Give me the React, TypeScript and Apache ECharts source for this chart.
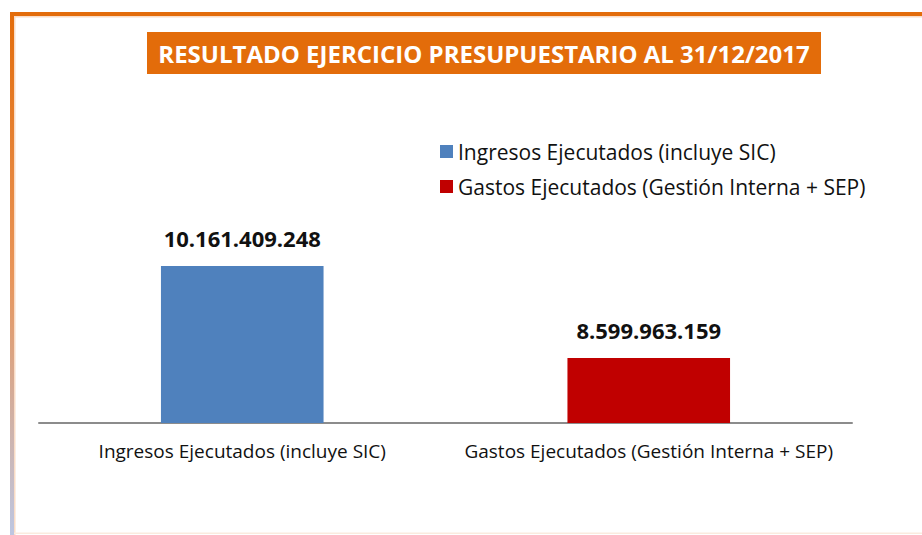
import React, { useEffect, useRef } from "react";
import * as echarts from "echarts";

const categories = ["Ingresos Ejecutados (incluye SIC)", "Gastos Ejecutados (Gestión Interna + SEP)"];
const ingresos = [10161409248, null];
const gastos = [null, 8599963159];
const titleText = "RESULTADO EJERCICIO PRESUPUESTARIO AL 31/12/2017";

const fmt = (v: number) => Math.round(v).toString().replace(/\B(?=(\d{3})+(?!\d))/g, ".");

export default function App() {
  const ref = useRef<HTMLDivElement>(null);
  useEffect(() => {
    const chart = echarts.init(ref.current!, null, { renderer: "svg" });
    const FONT = "Open Sans";
    const label = {
      show: true,
      position: "top",
      distance: 17,
      fontFamily: FONT,
      fontWeight: "bold",
      fontSize: 22,
      color: "#111",
      formatter: (p: any) => fmt(p.value),
    };
    chart.setOption({
      animation: false,
      backgroundColor: "#fff",
      textStyle: { fontFamily: FONT },
      grid: { left: 39, right: 70, top: 216.5, bottom: 112 },
      legend: {
        orient: "vertical",
        left: 440,
        top: 137,
        padding: 0,
        itemWidth: 13,
        itemHeight: 13,
        itemGap: 6,
        itemTextGap: 7,
        itemStyle: { borderWidth: 0 },
        textStyle: { fontFamily: FONT, fontSize: 21, color: "#111", lineHeight: 29 },
        icon: "rect",
        data: categories,
      },
      xAxis: {
        type: "category",
        data: categories,
        axisLine: { lineStyle: { color: "#8c8c8c", width: 2 } },
        axisTick: { show: false },
        axisLabel: { fontFamily: FONT, fontSize: 19, color: "#111", margin: 18, interval: 0 },
      },
      yAxis: {
        type: "value",
        min: 7500000000,
        max: 11000000000,
        show: false,
        splitLine: { show: false },
      },
      series: [
        {
          name: categories[0],
          type: "bar",
          data: ingresos,
          barWidth: "40%",
          barGap: "-100%",
          itemStyle: { color: "#4F81BD" },
          label,
        },
        {
          name: categories[1],
          type: "bar",
          data: gastos,
          barWidth: "40%",
          barGap: "-100%",
          itemStyle: { color: "#C00000" },
          label,
        },
      ],
      graphic: [
        { type: "rect", shape: { x: 10, y: 12, width: 920, height: 4 }, style: { fill: "#E36C0A" }, silent: true },
        {
          type: "rect",
          shape: { x: 10, y: 12, width: 4, height: 530 },
          style: {
            fill: new echarts.graphic.LinearGradient(0, 0, 0, 1, [
              { offset: 0, color: "#E36C0A" },
              { offset: 0.5, color: "#E8955A" },
              { offset: 1, color: "#BCC8E6" },
            ]),
          },
          silent: true,
        },
        { type: "rect", shape: { x: 14, y: 16, width: 910, height: 1.5 }, style: { fill: "#F9DCC6" }, silent: true },
        { type: "rect", shape: { x: 14, y: 16, width: 1.5, height: 520 }, style: { fill: "#F9DCC6" }, silent: true },
        { type: "rect", shape: { x: 14, y: 532.5, width: 910, height: 1.5 }, style: { fill: "#FBEBDF" }, silent: true },
        { type: "rect", shape: { x: 147, y: 32, width: 674, height: 42 }, style: { fill: "#E36C0A" }, silent: true },
        {
          type: "text",
          x: 484,
          y: 53,
          style: {
            text: titleText,
            fill: "#fff",
            font: `bold 24px ${FONT}`,
            textAlign: "center",
            textVerticalAlign: "middle",
          },
          silent: true,
        },
      ],
    });
    return () => chart.dispose();
  }, []);
  return <div ref={ref} style={{ position: "fixed", left: 0, top: 0, width: 922, height: 535 }} />;
}
